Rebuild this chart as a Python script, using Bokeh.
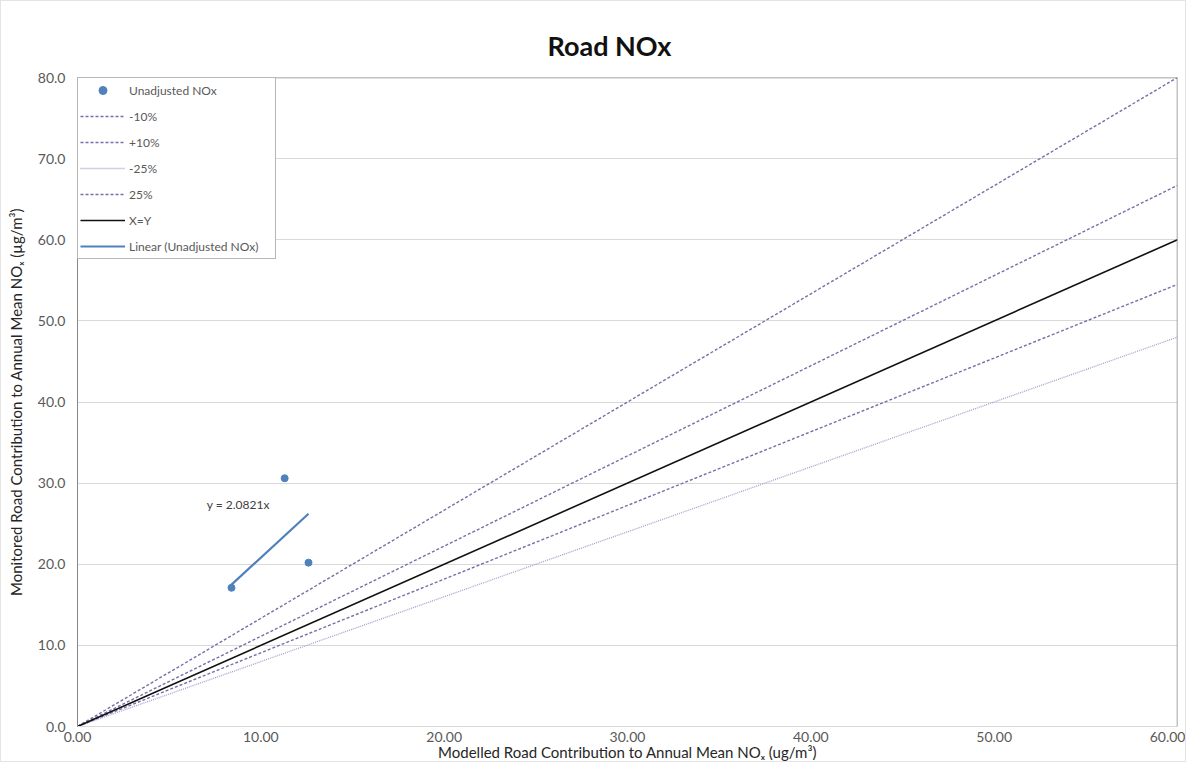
from bokeh.plotting import figure
from bokeh.models import (Range1d, NumeralTickFormatter, FixedTicker, Legend, LegendItem,
                          Label, Span)
from bokeh.embed import file_html
from bokeh.resources import INLINE

# ---- data ----
modelled = [8.4, 11.3, 12.6]
monitored = [17.1, 30.6, 20.2]

ref_x = [0.0, 60.0]
ref_minus10 = [0.0, 54.5]
ref_plus10 = [0.0, 66.7]
ref_minus25 = [0.0, 48.0]
ref_plus25 = [0.0, 80.0]
ref_xy = [0.0, 60.0]

trend_x = [8.4, 12.6]
trend_y = [17.49, 26.23]
trend_label = "y = 2.0821x"

x_ticks = [0, 10, 20, 30, 40, 50, 60]
y_ticks = [0, 10, 20, 30, 40, 50, 60, 70, 80]

FONT = "Lato"
PURPLE = "#7a6da8"
PURPLE_LIGHT = "#a99fcf"
BLUE = "#4f81bd"

p = figure(width=1186, height=762, output_backend="svg", toolbar_location=None,
           x_range=Range1d(0, 60), y_range=Range1d(0, 80),
           min_border_left=76, min_border_right=10, min_border_top=76, min_border_bottom=10,
           title="Road NOx")
p.styles = {"border": "1px solid #e4e4e4"}

p.title.text_font = FONT
p.title.text_font_size = "27px"
p.title.text_font_style = "bold"
p.title.text_color = "#111111"
p.title.align = "left"
p.title.offset = 470
p.title.standoff = 32

p.outline_line_color = None
p.xgrid.grid_line_color = None
p.ygrid.grid_line_color = "#d9d9d9"
p.ygrid.ticker = FixedTicker(ticks=y_ticks)

for ax in (p.xaxis, p.yaxis):
    ax.major_tick_line_color = None
    ax.minor_tick_line_color = None
    ax.major_tick_out = 0
    ax.major_tick_in = 0
    ax.major_label_text_font = FONT
    ax.major_label_text_font_size = "14px"
    ax.major_label_text_color = "#595959"
    ax.axis_label_text_font = FONT
    ax.axis_label_text_font_size = "15px"
    ax.axis_label_text_font_style = "normal"
    ax.axis_label_text_color = "#262626"

p.xaxis.ticker = FixedTicker(ticks=x_ticks)
p.yaxis.ticker = FixedTicker(ticks=y_ticks)
p.xaxis.formatter = NumeralTickFormatter(format="0.00")
p.yaxis.formatter = NumeralTickFormatter(format="0.0")
p.xaxis.axis_line_color = "#d9d9d9"
p.yaxis.axis_line_color = "#868686"
p.xaxis.major_label_standoff = 5
p.yaxis.major_label_standoff = 12
p.xaxis.axis_label_standoff = -2
p.yaxis.axis_label_standoff = 10
p.xaxis.axis_label = "Modelled Road Contribution to Annual Mean NOₓ (ug/m³)"
p.yaxis.axis_label = "Monitored Road Contribution to Annual Mean NOₓ (µg/m³)"

# frame top / right edges
p.add_layout(Span(location=80, dimension="width", line_color="#868686", line_width=1.5))
p.add_layout(Span(location=60, dimension="height", line_color="#868686", line_width=1.5))

r_pts = p.scatter(modelled, monitored, size=7, color=BLUE)
r_m10 = p.line(ref_x, ref_minus10, line_color=PURPLE, line_width=1.4, line_dash="3 2")
r_p10 = p.line(ref_x, ref_plus10, line_color=PURPLE, line_width=1.4, line_dash="3 2")
r_m25 = p.line(ref_x, ref_minus25, line_color=PURPLE_LIGHT, line_width=1.3, line_dash="1 1")
r_p25 = p.line(ref_x, ref_plus25, line_color=PURPLE, line_width=1.4, line_dash="3 2")
r_xy = p.line(ref_x, ref_xy, line_color="#111111", line_width=1.6)
r_tr = p.line(trend_x, trend_y, line_color=BLUE, line_width=2.2)

p.add_layout(Label(x=7.05, y=27.4, text=trend_label, text_font=FONT, text_font_size="12px",
                   text_color="#404040", text_baseline="middle"))

legend = Legend(items=[
    LegendItem(label="Unadjusted NOx", renderers=[r_pts]),
    LegendItem(label="-10%", renderers=[r_m10]),
    LegendItem(label="+10%", renderers=[r_p10]),
    LegendItem(label="-25%", renderers=[r_m25]),
    LegendItem(label="25%", renderers=[r_p25]),
    LegendItem(label="X=Y", renderers=[r_xy]),
    LegendItem(label="Linear (Unadjusted NOx)", renderers=[r_tr]),
], location="top_left")
legend.margin = 0
legend.padding = 2
legend.spacing = 6
legend.glyph_width = 45
legend.glyph_height = 20
legend.label_height = 20
legend.label_width = 144
legend.label_standoff = 4
legend.label_text_font = FONT
legend.label_text_font_size = "12px"
legend.label_text_color = "#595959"
legend.border_line_color = "#6e6e6e"
legend.border_line_width = 1.5
legend.background_fill_color = "white"
legend.background_fill_alpha = 1.0
p.add_layout(legend)

open("out.html", "w").write(file_html(p, INLINE))
